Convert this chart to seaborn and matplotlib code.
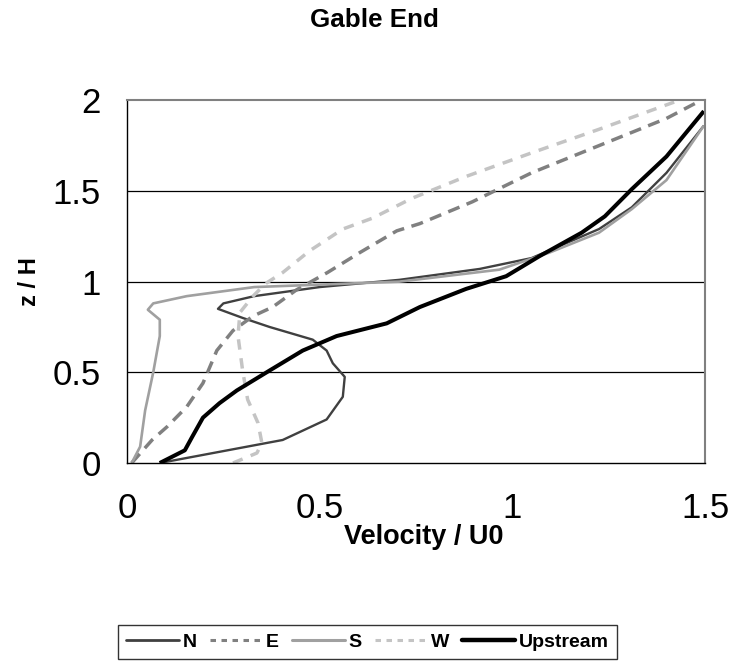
import matplotlib
matplotlib.use('Agg')
import matplotlib.pyplot as plt
import seaborn as sns
import pandas as pd
from matplotlib.lines import Line2D

# velocity profiles (z/H vs Velocity/U0)
n_z = [0, 0.127, 0.24, 0.365, 0.475, 0.55, 0.62, 0.68, 0.75, 0.80, 0.85, 0.88, 0.92, 0.97, 1.01, 1.07, 1.13, 1.29, 1.41, 1.60, 1.86]
n_v = [0.085, 0.404, 0.518, 0.56, 0.565, 0.534, 0.518, 0.482, 0.37, 0.30, 0.236, 0.25, 0.33, 0.5, 0.707, 0.915, 1.05, 1.225, 1.31, 1.40, 1.497]

e_z = [0, 0.127, 0.2, 0.31, 0.44, 0.62, 0.73, 0.81, 0.86, 0.955, 1.05, 1.16, 1.28, 1.32, 1.44, 1.60, 1.75, 1.90, 2.0]
e_v = [0.012, 0.065, 0.104, 0.155, 0.197, 0.233, 0.275, 0.327, 0.378, 0.44, 0.52, 0.604, 0.70, 0.76, 0.896, 1.05, 1.225, 1.40, 1.49]

s_z = [0, 0.09, 0.29, 0.50, 0.70, 0.79, 0.845, 0.88, 0.92, 0.97, 1.0, 1.066, 1.16, 1.27, 1.40, 1.56, 1.86]
s_v = [0.012, 0.034, 0.047, 0.068, 0.085, 0.085, 0.054, 0.068, 0.155, 0.33, 0.707, 0.966, 1.096, 1.225, 1.31, 1.40, 1.497]

w_z = [0, 0.055, 0.11, 0.22, 0.35, 0.51, 0.70, 0.83, 0.92, 0.99, 1.05, 1.17, 1.29, 1.35, 1.46, 1.58, 1.71, 1.84, 1.99]
w_v = [0.275, 0.337, 0.35, 0.34, 0.313, 0.30, 0.288, 0.293, 0.327, 0.36, 0.404, 0.474, 0.56, 0.637, 0.74, 0.88, 1.05, 1.225, 1.42]

up_z = [0, 0.07, 0.14, 0.25, 0.33, 0.40, 0.51, 0.62, 0.70, 0.77, 0.86, 0.96, 1.03, 1.14, 1.27, 1.36, 1.51, 1.69, 1.94]
up_v = [0.085, 0.15, 0.168, 0.197, 0.24, 0.285, 0.37, 0.456, 0.544, 0.674, 0.76, 0.88, 0.984, 1.07, 1.18, 1.24, 1.31, 1.40, 1.497]

names = ['N', 'E', 'S', 'W', 'Upstream']
tick_x = [0, 0.5, 1, 1.5]
tick_x_labels = ['0', '0.5', '1', '1.5']
tick_y = [0, 0.5, 1, 1.5, 2]
tick_y_labels = ['0', '0.5', '1', '1.5', '2']

sns.set_style('white')
plt.rcParams['font.family'] = ['Liberation Sans', 'DejaVu Sans']
plt.rcParams['text.color'] = 'black'
plt.rcParams['xtick.color'] = 'black'
plt.rcParams['ytick.color'] = 'black'

# style per series: colour, width, dashes
styles = {
    'N': ('#404040', 1.7, None),
    'E': ('#808080', 2.5, (3.5, 2.2)),
    'S': ('#a0a0a0', 1.9, None),
    'W': ('#c4c4c4', 2.5, (3, 2.5)),
    'Upstream': ('#000000', 2.9, None),
}
data = {'N': (n_v, n_z), 'E': (e_v, e_z), 'S': (s_v, s_z), 'W': (w_v, w_z), 'Upstream': (up_v, up_z)}

fig = plt.figure(figsize=(7.36, 6.64), dpi=100)
ax = fig.add_axes([0.1726, 0.3027, 0.7853, 0.5463])

for y in [0.5, 1, 1.5]:
    ax.axhline(y, color='black', lw=0.9, zorder=0)

handles = []
for name in names:
    v, z = data[name]
    col, lw, dash = styles[name]
    df = pd.DataFrame({'v': v, 'z': z})
    sns.lineplot(data=df, x='v', y='z', ax=ax, orient='y', sort=False, estimator=None,
                 color=col, lw=lw, solid_capstyle='butt')
    line = ax.lines[-1]
    if dash is not None:
        line.set_dashes(dash)
        handles.append(Line2D([], [], color=col, lw=2.2, linestyle=(0, (1.8, 1.8))))
    else:
        handles.append(Line2D([], [], color=col, lw=lw + 0.3))

ax.set_xlim(0, 1.5)
ax.set_ylim(0, 2)
ax.set_xticks(tick_x)
ax.set_xticklabels(tick_x_labels)
ax.set_yticks(tick_y)
ax.set_yticklabels(tick_y_labels)
ax.set_xlabel('')
ax.set_ylabel('')
ax.tick_params(axis='both', direction='out', length=7, width=1, labelsize=25, color='black')
ax.tick_params(axis='x', pad=14)
ax.tick_params(axis='y', pad=12)

for side in ['left', 'bottom']:
    ax.spines[side].set_color('black')
    ax.spines[side].set_linewidth(1)
for side in ['top', 'right']:
    ax.spines[side].set_color('#808080')
    ax.spines[side].set_linewidth(1.5)

fig.text(374 / 736, 1 - 20 / 664, 'Gable End', ha='center', va='center', fontsize=18.7, fontweight='bold')
fig.text(424 / 736, 1 - 537 / 664, 'Velocity / U0', ha='center', va='center', fontsize=19.5, fontweight='bold')
fig.text(30 / 736, 1 - 282 / 664, 'z / H', ha='center', va='center', rotation=90, fontsize=17, fontweight='bold')

leg = fig.legend(handles, names, loc='center', bbox_to_anchor=(367.5 / 736, 1 - 642 / 664), ncol=5,
                 frameon=True, fancybox=False, edgecolor='black', handlelength=2.7, handletextpad=0.2,
                 columnspacing=0.67, borderpad=0.4, prop={'weight': 'bold', 'size': 14})
leg.get_frame().set_linewidth(1)

fig.savefig('out.png', dpi=100)
